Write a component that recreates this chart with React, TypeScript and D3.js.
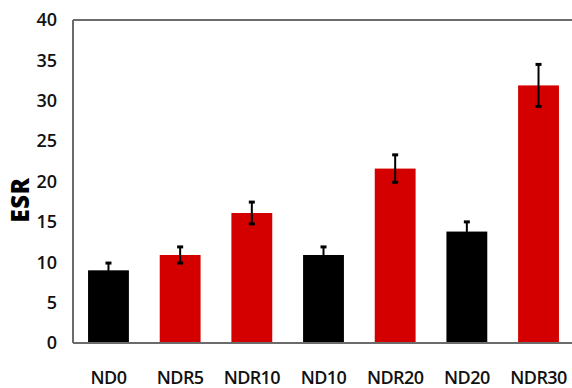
import React, { useEffect, useRef } from "react";
import * as d3 from "d3";

const categories = ["ND0", "NDR5", "NDR10", "ND10", "NDR20", "ND20", "NDR30"];
const esrValues = [9.0, 10.9, 16.1, 10.9, 21.6, 13.8, 31.9];
const esrErrors = [0.9, 1.0, 1.35, 1.0, 1.7, 1.2, 2.6];
const groups = ["ND", "NDR", "NDR", "ND", "NDR", "ND", "NDR"];
const yTicks = [0, 5, 10, 15, 20, 25, 30, 35, 40];

const groupColor: Record<string, string> = { ND: "#000000", NDR: "#d40000" };

export default function App() {
  const ref = useRef<SVGSVGElement>(null);

  useEffect(() => {
    const width = 572;
    const height = 388;
    const margin = { top: 20, right: -2, bottom: 45, left: 73 };
    const svg = d3.select(ref.current);
    svg.selectAll("*").remove();

    const x = d3
      .scaleBand()
      .domain(categories)
      .range([margin.left, width - margin.right])
      .paddingInner(0.43)
      .paddingOuter(0.21);

    const y = d3
      .scaleLinear()
      .domain([0, 40])
      .range([height - margin.bottom, margin.top]);

    const data = categories.map((c, i) => ({
      name: c,
      value: esrValues[i],
      err: esrErrors[i],
      group: groups[i]
    }));

    // bars
    svg
      .append("g")
      .selectAll("rect")
      .data(data)
      .join("rect")
      .attr("x", d => x(d.name)!)
      .attr("y", d => y(d.value))
      .attr("width", x.bandwidth())
      .attr("height", d => y(0) - y(d.value))
      .attr("fill", d => groupColor[d.group]);

    // error bars
    const eb = svg.append("g").attr("stroke", "#000").attr("stroke-width", 2);
    data.forEach(d => {
      const cx = x(d.name)! + x.bandwidth() / 2;
      eb.append("line")
        .attr("x1", cx)
        .attr("x2", cx)
        .attr("y1", y(d.value + d.err))
        .attr("y2", y(d.value - d.err));
      [d.value + d.err, d.value - d.err].forEach(v => {
        eb.append("line")
          .attr("x1", cx - 3)
          .attr("x2", cx + 3)
          .attr("y1", y(v))
          .attr("y2", y(v))
          .attr("stroke-width", 3);
      });
    });

    // frame lines (left, bottom, top)
    const frame = svg
      .append("g")
      .attr("stroke", "#6b6b6b")
      .attr("stroke-width", 2)
      .attr("fill", "none");
    frame
      .append("line")
      .attr("x1", margin.left)
      .attr("x2", margin.left)
      .attr("y1", y(40))
      .attr("y2", y(0));
    frame
      .append("line")
      .attr("x1", margin.left)
      .attr("x2", width)
      .attr("y1", y(0))
      .attr("y2", y(0));
    frame
      .append("line")
      .attr("x1", margin.left)
      .attr("x2", width)
      .attr("y1", y(40))
      .attr("y2", y(40));

    // y axis labels
    const yAxis = d3
      .axisLeft(y)
      .tickValues(yTicks)
      .tickSize(0)
      .tickPadding(16);
    const yg = svg
      .append("g")
      .attr("transform", "translate(" + margin.left + ",0)")
      .call(yAxis);
    yg.select(".domain").remove();
    yg.selectAll("text")
      .attr("font-family", "Open Sans")
      .attr("font-weight", 600)
      .attr("font-size", 18)
      .attr("fill", "#111");

    // x axis labels
    const xAxis = d3.axisBottom(x).tickSize(0).tickPadding(28);
    const xg = svg
      .append("g")
      .attr("transform", "translate(0," + y(0) + ")")
      .call(xAxis);
    xg.select(".domain").remove();
    xg.selectAll("text")
      .attr("font-family", "Open Sans")
      .attr("font-weight", 600)
      .attr("font-size", 18)
      .attr("letter-spacing", -0.6)
      .attr("fill", "#111");

    // y axis title
    svg
      .append("text")
      .attr("transform", "rotate(-90)")
      .attr("x", -200)
      .attr("y", 29)
      .attr("text-anchor", "middle")
      .attr("font-family", "Open Sans")
      .attr("font-weight", 800)
      .attr("font-size", 24)
      .attr("letter-spacing", 0.5)
      .attr("fill", "#000")
      .text("ESR");
  }, []);

  return (
    <svg
      ref={ref}
      width={572}
      height={388}
      style={{ position: "absolute", left: 0, top: 0, background: "#fff" }}
    />
  );
}
